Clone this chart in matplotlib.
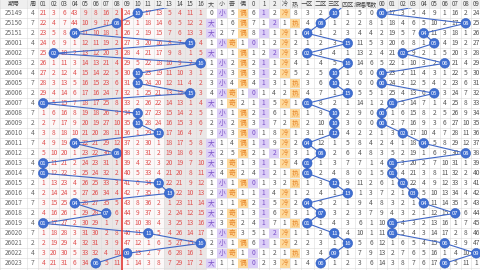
import matplotlib
matplotlib.use("Agg")
import matplotlib.pyplot as plt
from matplotlib.patches import Rectangle, Circle

plt.rcParams['font.family'] = ['Noto Sans CJK SC', 'DejaVu Sans']

# ---- draw data -------------------------------------------------------------
issues = ["25149", "25150", "25151", "26001", "26002", "26003", "26004",
          "26005", "26006", "26007", "26008", "26009", "26010", "26011",
          "26012", "26013", "26014", "26015", "26016", "26017", "26018",
          "26019", "26020", "26021", "26022", "26023"]
weekdays = [4, 7, 2, 4, 7, 2, 4, 7, 2, 4, 7, 2, 4, 7, 2, 4, 7, 2, 4, 7, 2,
            4, 7, 2, 4, 7]
balls = [10, 8, 4, 15, 2, 16, 10, 10, 15, 1, 10, 10, 12, 4, 8, 1, 1, 12, 13,
         4, 7, 1, 11, 16, 9, 6]
prev_ball = 15
hot_cold = ["冷", "热", "冷", "冷", "冷", "冷", "冷", "热", "热", "冷", "热",
            "热", "冷", "冷", "冷", "冷", "热", "热", "冷", "冷", "冷", "热",
            "冷", "冷", "热", "冷"]

# omission counts standing before the first listed draw
start_miss_num = [21, 3, 6, 43, 9, 8, 16, 2, 24, 0, 17, 13, 5, 4, 11, 1]
start_miss_bs = [0, 2]        # 大, 小
start_miss_oe = [5, 0]        # 奇, 偶
start_miss_mod = [6, 0, 2]    # 0, 1, 2 路
start_miss_hc = [0, 8]        # 冷, 热
start_miss_zone = [3, 2, 0, 1]

num_labels = [f"{i:02d}" for i in range(1, 17)]
tail_labels = [f"{i:02d}" for i in range(10)]

# ---- layout (pixel grid) ----------------------------------------------------
W, H = 480, 270
HEAD = 8.3
ROW = 10.0
n_rows = len(issues)

cols = []  # (key, x0, x1, header)
cols.append(("issue", 0, 27, "期号"))
cols.append(("week", 27, 38, "周"))
x = 38.0
for lab in num_labels:
    cols.append(("num", x, x + 10.5, lab)); x += 10.5
for lab in ["大", "小", "奇", "偶", "0", "1", "2", "冷", "热"]:
    cols.append(("misc", x, x + 10.5, lab)); x += 10.5
for lab in ["一区", "二区", "三区", "四区"]:
    cols.append(("zone", x, x + 13.5, lab)); x += 13.5
cols.append(("amp", x, x + 11, "振幅")); x += 11
cols.append(("tailv", x, x + 11, "尾数")); x += 11
for lab in tail_labels:
    cols.append(("tail", x, x + 10.5, lab)); x += 10.5

fig = plt.figure(figsize=(4.8, 2.7), dpi=100)
ax = fig.add_axes([0, 0, 1, 1])
ax.set_xlim(0, W)
ax.set_ylim(H, 0)
ax.axis("off")

RED = "#e0504f"
DARK = "#555555"
BLUE = "#3f6fd2"
LINE = "#4068c8"
PURPLE_BG = "#dccff7"
PURPLE_TX = "#7b50c8"
ORANGE_BG = "#fdd99c"
ORANGE_TX = "#e8862a"
GRID = "#dcdcdc"
FS = 4.8


def row_y(i):
    return HEAD + ROW * i


def cell_center(c, i):
    _, x0, x1, _ = cols[c]
    return (x0 + x1) / 2, row_y(i) + ROW / 2


# column background shading (05-08, 13-16 darker blocks)
for c, (key, x0, x1, lab) in enumerate(cols):
    color = "white"
    if key == "num":
        k = int(lab)
        if 5 <= k <= 8 or 13 <= k <= 16:
            color = "#ebe6e6"
        else:
            color = "#fcf8f8"
    ax.add_patch(Rectangle((x0, HEAD), x1 - x0, H - HEAD, facecolor=color,
                           edgecolor="none", zorder=0))

# grid
for i in range(n_rows + 1):
    ax.plot([0, W], [row_y(i), row_y(i)], color=GRID, lw=0.4, zorder=1)
for key, x0, x1, lab in cols:
    ax.plot([x0, x0], [0, H], color=GRID, lw=0.4, zorder=1)


def miss_series(hits, start):
    out = []
    m = start
    for i, h in enumerate(hits):
        if h:
            out.append(None); m = 0
        else:
            m = m + 1 if i > 0 else start
            out.append(m)
    return out


col_index = {}
for c, (key, x0, x1, lab) in enumerate(cols):
    col_index.setdefault(key, []).append(c)

# per-number omission
num_miss = []
for k in range(16):
    hits = [b == k + 1 for b in balls]
    num_miss.append(miss_series(hits, start_miss_num[k]))


def put(c, i, s, color=DARK, bg=None, fs=FS):
    cx, cy = cell_center(c, i)
    _, x0, x1, _ = cols[c]
    if bg:
        ax.add_patch(Rectangle((x0 + 0.4, row_y(i) + 0.4), x1 - x0 - 0.8,
                               ROW - 0.8, facecolor=bg, edgecolor="none",
                               zorder=2))
    ax.text(cx, cy, s, ha="center", va="center", fontsize=fs, color=color,
            zorder=3)


# issue and weekday
for i in range(n_rows):
    put(col_index["issue"][0], i, issues[i], color="#666666", fs=4.6)
    put(col_index["week"][0], i, str(weekdays[i]), color="#666666")

# number section
ball_pts = []
for k in range(16):
    c = col_index["num"][k]
    for i in range(n_rows):
        v = num_miss[k][i]
        if v is not None:
            put(c, i, str(v), color=RED)

for i, b in enumerate(balls):
    ball_pts.append(cell_center(col_index["num"][b - 1], i))


def connect(points, first_prev=None):
    pts = list(points)
    if first_prev is not None:
        pts = [first_prev] + pts
    xs = [p[0] for p in pts]
    ys = [p[1] for p in pts]
    ax.plot(xs, ys, color=LINE, lw=0.8, zorder=4, solid_capstyle="round")


def balls_draw(points, labels):
    for (cx, cy), s in zip(points, labels):
        ax.add_patch(Circle((cx, cy), 4.8, facecolor=BLUE, edgecolor="#2f5bbd",
                            lw=0.4, zorder=5))
        ax.text(cx, cy, s, ha="center", va="center", fontsize=4.2,
                color="white", zorder=6)


prev_num_pt = cell_center(col_index["num"][prev_ball - 1], -1)
connect(ball_pts, prev_num_pt)
balls_draw(ball_pts, [f"{b:02d}" for b in balls])

# big/small, odd/even, mod 3, hot/cold
groups = [
    (["大", "小"], [b >= 9 for b in balls], start_miss_bs, PURPLE_BG, PURPLE_TX, 0),
    (["奇", "偶"], [b % 2 == 0 for b in balls], start_miss_oe, ORANGE_BG, ORANGE_TX, 2),
]
misc = col_index["misc"]
for labs, is_second, start, bg, tx, off in groups:
    for j in range(2):
        hits = [(s if j == 1 else not s) for s in is_second]
        ms = miss_series(hits, start[j])
        for i in range(n_rows):
            if ms[i] is None:
                put(misc[off + j], i, labs[j], color=tx, bg=bg)
            else:
                put(misc[off + j], i, str(ms[i]))

for r in range(3):
    hits = [b % 3 == r for b in balls]
    ms = miss_series(hits, start_miss_mod[r])
    for i in range(n_rows):
        if ms[i] is None:
            put(misc[4 + r], i, str(r), color=PURPLE_TX, bg=PURPLE_BG)
        else:
            put(misc[4 + r], i, str(ms[i]))

for j, lab in enumerate(["冷", "热"]):
    hits = [h == lab for h in hot_cold]
    ms = miss_series(hits, start_miss_hc[j])
    for i in range(n_rows):
        if ms[i] is None:
            put(misc[7 + j], i, lab, color=ORANGE_TX, bg=ORANGE_BG)
        else:
            put(misc[7 + j], i, str(ms[i]))

# zones
zc = col_index["zone"]
zone_of = [(b - 1) // 4 for b in balls]
for z in range(4):
    ms = miss_series([q == z for q in zone_of], start_miss_zone[z])
    for i in range(n_rows):
        if ms[i] is not None:
            put(zc[z], i, str(ms[i]))
zone_pts = [cell_center(zc[z], i) for i, z in enumerate(zone_of)]
connect(zone_pts, cell_center(zc[(prev_ball - 1) // 4], -1))
balls_draw(zone_pts, [f"{b:02d}" for b in balls])

# amplitude and tail value
seq = [prev_ball] + balls
for i in range(n_rows):
    put(col_index["amp"][0], i, str(abs(seq[i + 1] - seq[i])))
    put(col_index["tailv"][0], i, str(balls[i] % 10))

# tails: a tail is missed while every number ending in it is missed
tc = col_index["tail"]
for t in range(10):
    members = [k for k in range(16) if (k + 1) % 10 == t]
    for i in range(n_rows):
        if balls[i] % 10 == t:
            continue
        v = min(num_miss[k][i] for k in members)
        put(tc[t], i, str(v))
tail_pts = [cell_center(tc[b % 10], i) for i, b in enumerate(balls)]
connect(tail_pts, cell_center(tc[prev_ball % 10], -1))
balls_draw(tail_pts, [f"{b % 10:02d}" for b in balls])

# header row drawn over everything
ax.add_patch(Rectangle((0, 0), W, HEAD, facecolor="#efefef", edgecolor="none",
                       zorder=7))
for key, x0, x1, lab in cols:
    ax.text((x0 + x1) / 2, HEAD / 2, lab, ha="center", va="center",
            fontsize=4.4, color="#444444", zorder=8)
    ax.plot([x0, x0], [0, HEAD], color=GRID, lw=0.4, zorder=8)

# divider between 08 and 09
xdiv = cols[col_index["num"][8]][1]
ax.plot([xdiv, xdiv], [0, H], color="#e53935", lw=1.2, zorder=6.5)

fig.savefig("out.png", dpi=100)
